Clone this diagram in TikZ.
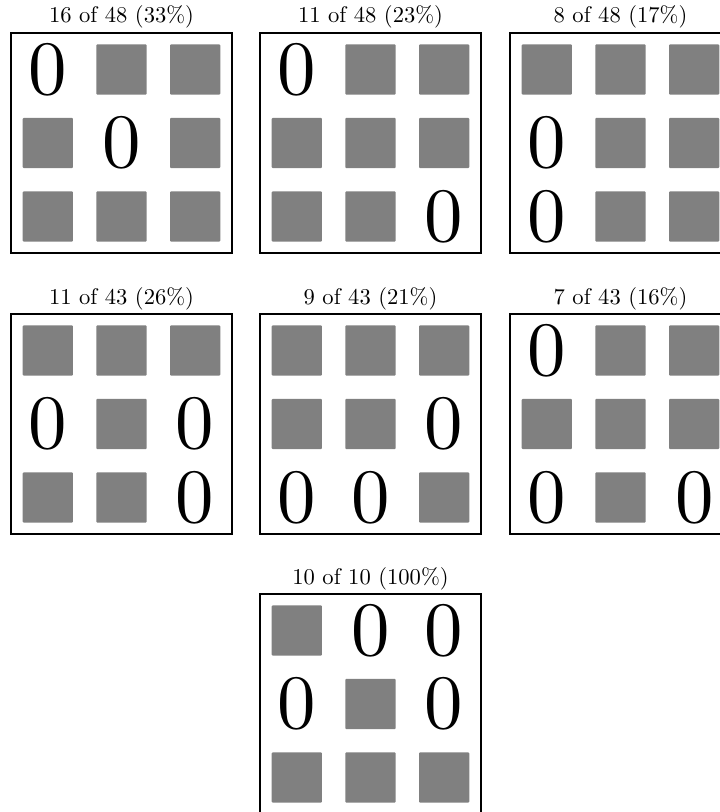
\documentclass[tikz,border=0pt]{standalone}
\usepackage{fontspec}
\newfontfamily\zfont{lmroman10-regular.otf}
\begin{document}
\begin{tikzpicture}[x=0.4425pt,y=-0.4425pt,
  frame/.style={draw=black,line width=0.8pt,minimum width=97.8pt,minimum height=97.35pt,inner sep=0pt},
  sq/.style={fill=gray,minimum size=22.2pt,inner sep=0pt,rounded corners=0.4pt},
  zero/.style={font=\zfont\fontsize{34}{40}\selectfont,inner sep=0pt},
  ttl/.style={anchor=base,font=\fontsize{10}{12}\selectfont,inner sep=0pt}]
\clip (0,0) rectangle (720,812);
\newcommand\mypanel[5]{%
  \node[frame] (#3) at (#1,#2) {};
  \node[ttl] (#3t) at (#1,#2-120) {#4};
  \foreach \v [count=\i from 0] in {#5} {
    \pgfmathtruncatemacro\rr{int(\i/3)-1}
    \pgfmathtruncatemacro\cc{mod(\i,3)-1}
    \if\v S
      \node[sq] (#3-\i) at (#1+73.7*\cc,#2+73.5*\rr) {};
    \else
      \node[zero] (#3-\i) at (#1+73.7*\cc,#2+73.5*\rr) {0};
    \fi
  }
}
\mypanel{121.5}{143}{pa}{16 of 48 (33\%)}{Z,S,S,S,Z,S,S,S,S}
\mypanel{370.5}{143}{pb}{11 of 48 (23\%)}{Z,S,S,S,S,S,S,S,Z}
\mypanel{620.5}{143}{pc}{8 of 48 (17\%)}{S,S,S,Z,S,S,Z,S,S}
\mypanel{121.5}{424}{pd}{11 of 43 (26\%)}{S,S,S,Z,S,Z,S,S,Z}
\mypanel{370.5}{424}{pe}{9 of 43 (21\%)}{S,S,S,S,S,Z,Z,Z,S}
\mypanel{620.5}{424}{pf}{7 of 43 (16\%)}{Z,S,S,S,S,S,Z,S,Z}
\mypanel{370.5}{704}{pg}{10 of 10 (100\%)}{S,Z,Z,Z,S,Z,S,S,S}
\end{tikzpicture}
\end{document}
